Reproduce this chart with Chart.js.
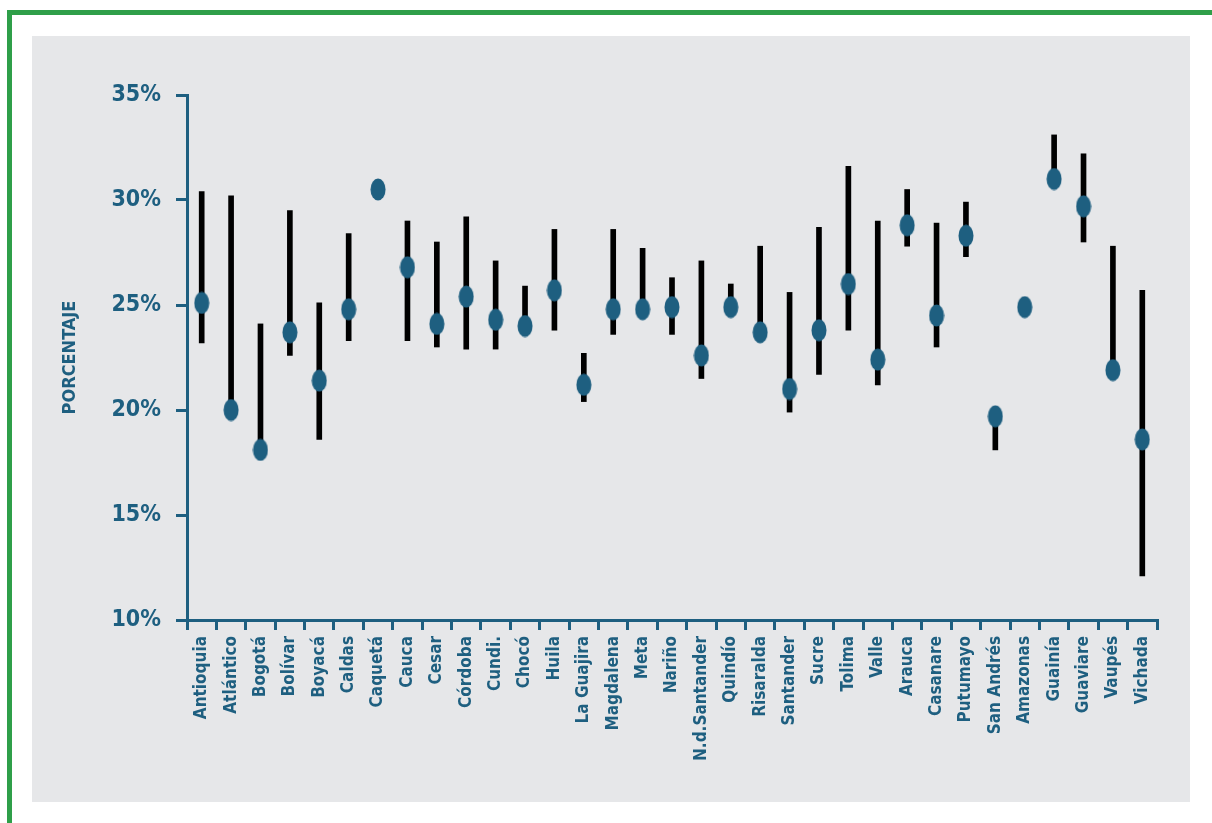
<!DOCTYPE html>
<html>
<head>
<meta charset="utf-8">
<script src="https://cdn.jsdelivr.net/npm/chart.js@4/dist/chart.umd.min.js"></script>
<style>
  body { margin: 0; background: #fff; width: 1212px; height: 823px; overflow: hidden; position: relative; }
  #frame { position: absolute; left: 7px; top: 10px; width: 1220px; height: 830px;
           border-top: 5px solid #2f9f49; border-left: 5px solid #2f9f49; }
  #panel { position: absolute; left: 32px; top: 36px; width: 1158px; height: 766px; background: #e6e7e9; }
</style>
</head>
<body>
<div id="frame"></div>
<div id="panel"><canvas id="chart" width="1158" height="766"></canvas></div>
<script>
const categories = ['Antioquia', 'Atlántico', 'Bogotá', 'Bolívar', 'Boyacá', 'Caldas', 'Caquetá', 'Cauca',
  'Cesar', 'Córdoba', 'Cundi.', 'Chocó', 'Huila', 'La Guajira', 'Magdalena', 'Meta', 'Nariño',
  'N.d.Santander', 'Quindío', 'Risaralda', 'Santander', 'Sucre', 'Tolima', 'Valle', 'Arauca',
  'Casanare', 'Putumayo', 'San Andrés', 'Amazonas', 'Guainía', 'Guaviare', 'Vaupés', 'Vichada'];

// point estimate (%)
const estimate = [25.1, 20.0, 18.1, 23.7, 21.4, 24.8, 30.5, 26.8, 24.1, 25.4, 24.3, 24.0, 25.7, 21.2, 24.8,
  24.8, 24.9, 22.6, 24.9, 23.7, 21.0, 23.8, 26.0, 22.4, 28.8, 24.5, 28.3, 19.7, 24.9, 31.0, 29.7, 21.9, 18.6];

// range ends (%), null where no range is drawn
const rangeLow = [23.2, 20.0, 18.1, 22.6, 18.6, 23.3, null, 23.3, 23.0, 22.9, 22.9, 24.0, 23.8, 20.4, 23.6,
  24.8, 23.6, 21.5, 24.9, 23.7, 19.9, 21.7, 23.8, 21.2, 27.8, 23.0, 27.3, 18.1, null, 31.0, 28.0, 21.9, 12.1];
const rangeHigh = [30.4, 30.2, 24.1, 29.5, 25.1, 28.4, null, 29.0, 28.0, 29.2, 27.1, 25.9, 28.6, 22.7, 28.6,
  27.7, 26.3, 27.1, 26.0, 27.8, 25.6, 28.7, 31.6, 29.0, 30.5, 28.9, 29.9, 19.7, null, 33.1, 32.2, 27.8, 25.7];

const yTicks = [10, 15, 20, 25, 30, 35];

const blue = '#1e5f80';
const fontFamily = "'DejaVu Sans Condensed', sans-serif";

// oval marker
const dot = document.createElement('canvas');
dot.width = 16;
dot.height = 23;
const dctx = dot.getContext('2d');
dctx.fillStyle = blue;
dctx.beginPath();
dctx.ellipse(8, 11.5, 7.5, 11, 0, 0, Math.PI * 2);
dctx.fill();

const ranges = categories.map((c, i) => rangeLow[i] === null ? null : [rangeLow[i], rangeHigh[i]]);

new Chart(document.getElementById('chart'), {
  type: 'bar',
  data: {
    labels: categories,
    datasets: [
      {
        type: 'line',
        data: estimate,
        showLine: false,
        pointStyle: dot,
        pointRadius: 8,
        order: 1
      },
      {
        data: ranges,
        backgroundColor: '#000',
        barThickness: 5,
        order: 2
      }
    ]
  },
  options: {
    responsive: false,
    animation: false,
    layout: { padding: { left: 0, top: 59, right: 33, bottom: 0 } },
    plugins: { legend: { display: false }, tooltip: { enabled: false } },
    scales: {
      x: {
        offset: true,
        border: { color: blue, width: 3 },
        grid: { offset: true, drawOnChartArea: false, drawTicks: true, tickLength: 10, color: blue, lineWidth: 3 },
        ticks: {
          color: blue, minRotation: 90, maxRotation: 90, padding: 6, autoSkip: false,
          font: { family: fontFamily, size: 17, weight: 'bold' }
        },
        afterFit: s => { s.height = 182; }
      },
      y: {
        min: 10,
        max: 35,
        border: { color: blue, width: 3 },
        grid: { drawOnChartArea: false, drawTicks: true, tickLength: 11, color: blue, lineWidth: 3 },
        afterBuildTicks: s => { s.ticks = yTicks.map(v => ({ value: v })); },
        ticks: {
          color: blue, padding: 15,
          font: { family: fontFamily, size: 23, weight: 'bold' },
          callback: v => v + '%'
        },
        title: {
          display: true, text: 'PORCENTAJE', color: blue,
          padding: { top: 28, bottom: 0 },
          font: { family: fontFamily, size: 18, weight: 'bold' }
        },
        afterFit: s => { s.width = 155; }
      }
    }
  }
});
</script>
</body>
</html>
